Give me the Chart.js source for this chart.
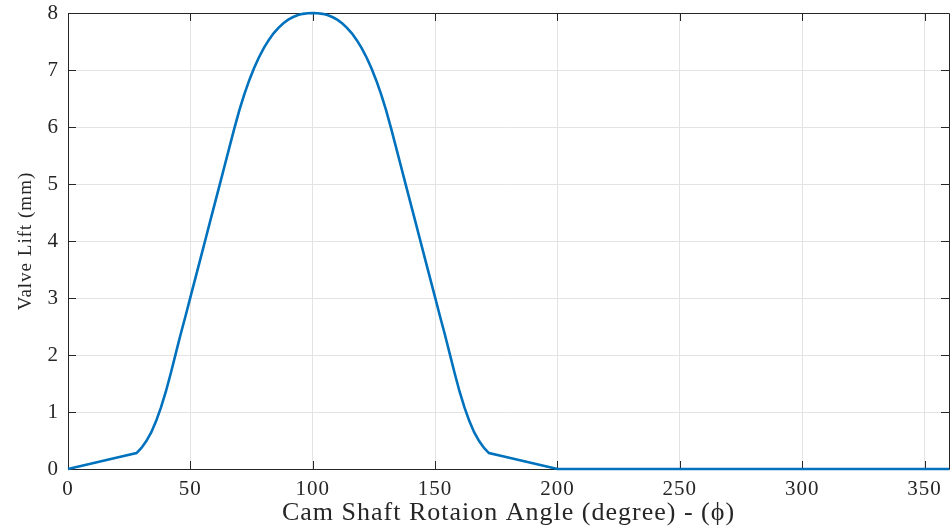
<!DOCTYPE html>
<html>
<head>
<meta charset="utf-8">
<script src="https://cdn.jsdelivr.net/npm/chart.js@4/dist/chart.umd.min.js"></script>
<style>
  html, body { margin: 0; padding: 0; background: #fff; }
  #wrap { width: 951px; height: 531px; }
</style>
</head>
<body>
<div id="wrap"><canvas id="myChart" width="951" height="531"></canvas></div>
<script>
// cam angle (deg) and valve lift (mm)
var angle = [0, 7, 14, 21, 28, 30, 32, 34, 36, 38, 40, 42, 44, 46, 48, 50, 52, 54, 56, 58, 60, 62, 64, 66, 68, 70,
             72, 74, 76, 78, 80, 82, 84, 86, 88, 90, 92, 94, 96, 98, 100,
             102, 104, 106, 108, 110, 112, 114, 116, 118, 120, 122, 124, 126, 128, 130,
             132, 134, 136, 138, 140, 142, 144, 146, 148, 150, 152, 154, 156, 158, 160, 162, 164, 166, 168, 170, 172,
             179, 186, 193, 200, 360];
var lift = [0, 0.07, 0.14, 0.21, 0.28, 0.37, 0.49, 0.64, 0.84, 1.08, 1.36, 1.68, 2.02, 2.36, 2.68, 3.01, 3.34, 3.67, 4.0, 4.33, 4.66, 4.99, 5.32, 5.65, 5.98, 6.29,
            6.567, 6.813, 7.03, 7.22, 7.384, 7.524, 7.643, 7.74, 7.82, 7.882, 7.929, 7.963, 7.985, 7.996, 8.0,
            7.996, 7.985, 7.963, 7.929, 7.882, 7.82, 7.74, 7.643, 7.524, 7.384, 7.22, 7.03, 6.813, 6.567, 6.29,
            5.98, 5.65, 5.32, 4.99, 4.66, 4.33, 4.0, 3.67, 3.34, 3.01, 2.68, 2.36, 2.02, 1.68, 1.36, 1.08, 0.84, 0.64, 0.49, 0.37, 0.28,
            0.21, 0.14, 0.07, 0, 0];
var xTicks = [0, 50, 100, 150, 200, 250, 300, 350];
var yTicks = [0, 1, 2, 3, 4, 5, 6, 7, 8];

var axisColor = '#262626';
var serif = '"Liberation Serif", "Times New Roman", serif';

// the reference text is a bit wide, open it up a little
// (canvas resize wipes ctx state, so set it again before layout and draw)
var spacingPlugin = {
    id: 'spacing',
    beforeLayout: function (chart) { if ('letterSpacing' in chart.ctx) chart.ctx.letterSpacing = '1px'; },
    beforeDraw: function (chart) { if ('letterSpacing' in chart.ctx) chart.ctx.letterSpacing = '1px'; }
};

// matlab style box with inward ticks
var boxPlugin = {
    id: 'box',
    beforeDatasetsDraw: function (chart) {
        var c = chart.ctx, a = chart.chartArea;
        var xs = chart.scales.x, ys = chart.scales.y;
        var len = 8;
        c.save();
        c.strokeStyle = axisColor;
        c.lineWidth = 1;
        c.beginPath();
        c.rect(Math.round(a.left) + 0.5, Math.round(a.top) + 0.5, Math.round(a.right - a.left), Math.round(a.bottom - a.top));
        xTicks.forEach(function (v) {
            var px = Math.round(xs.getPixelForValue(v)) + 0.5;
            c.moveTo(px, a.bottom); c.lineTo(px, a.bottom - len);
            c.moveTo(px, a.top); c.lineTo(px, a.top + len);
        });
        yTicks.forEach(function (v) {
            var py = Math.round(ys.getPixelForValue(v)) + 0.5;
            c.moveTo(a.left, py); c.lineTo(a.left + len, py);
            c.moveTo(a.right, py); c.lineTo(a.right - len, py);
        });
        c.stroke();
        c.restore();
    }
};

var pts = angle.map(function (x, i) { return { x: x, y: lift[i] }; });

var ctx = document.getElementById('myChart').getContext('2d');
var chart = new Chart(ctx, {
    type: 'scatter',
    data: {
        datasets: [{
            data: pts,
            showLine: true,
            borderColor: '#0072BD',
            backgroundColor: '#0072BD',
            borderWidth: 2.6,
            pointRadius: 0,
            tension: 0,
            clip: 4
        }]
    },
    options: {
        responsive: false,
        animation: false,
        layout: { padding: { left: 0, right: 2, top: 13, bottom: 0 } },
        plugins: { legend: { display: false }, tooltip: { enabled: false } },
        scales: {
            x: {
                type: 'linear',
                min: 0,
                max: 360,
                afterFit: function (s) { s.height = 62; },
                border: { display: false },
                grid: { color: '#e3e3e3', lineWidth: 1, drawTicks: false },
                ticks: {
                    stepSize: 50,
                    includeBounds: false,
                    padding: 8,
                    maxRotation: 0,
                    color: axisColor,
                    font: { family: serif, size: 21 }
                },
                title: {
                    display: true,
                    text: 'Cam Shaft Rotaion Angle (degree) - (ϕ)',
                    color: axisColor,
                    font: { family: serif, size: 26 },
                    padding: { top: 2, bottom: 2 }
                }
            },
            y: {
                type: 'linear',
                min: 0,
                max: 8,
                afterFit: function (s) { s.width = 68; s.paddingTop = 0; s.paddingBottom = 0; },
                border: { display: false },
                grid: { color: '#e3e3e3', lineWidth: 1, drawTicks: false },
                ticks: {
                    stepSize: 1,
                    padding: 9,
                    color: axisColor,
                    font: { family: serif, size: 21 }
                },
                title: {
                    display: true,
                    text: 'Valve Lift (mm)',
                    color: axisColor,
                    font: { family: serif, size: 19 },
                    padding: { top: 15, bottom: 15 }
                }
            }
        }
    },
    plugins: [spacingPlugin, boxPlugin]
});
</script>
</body>
</html>
